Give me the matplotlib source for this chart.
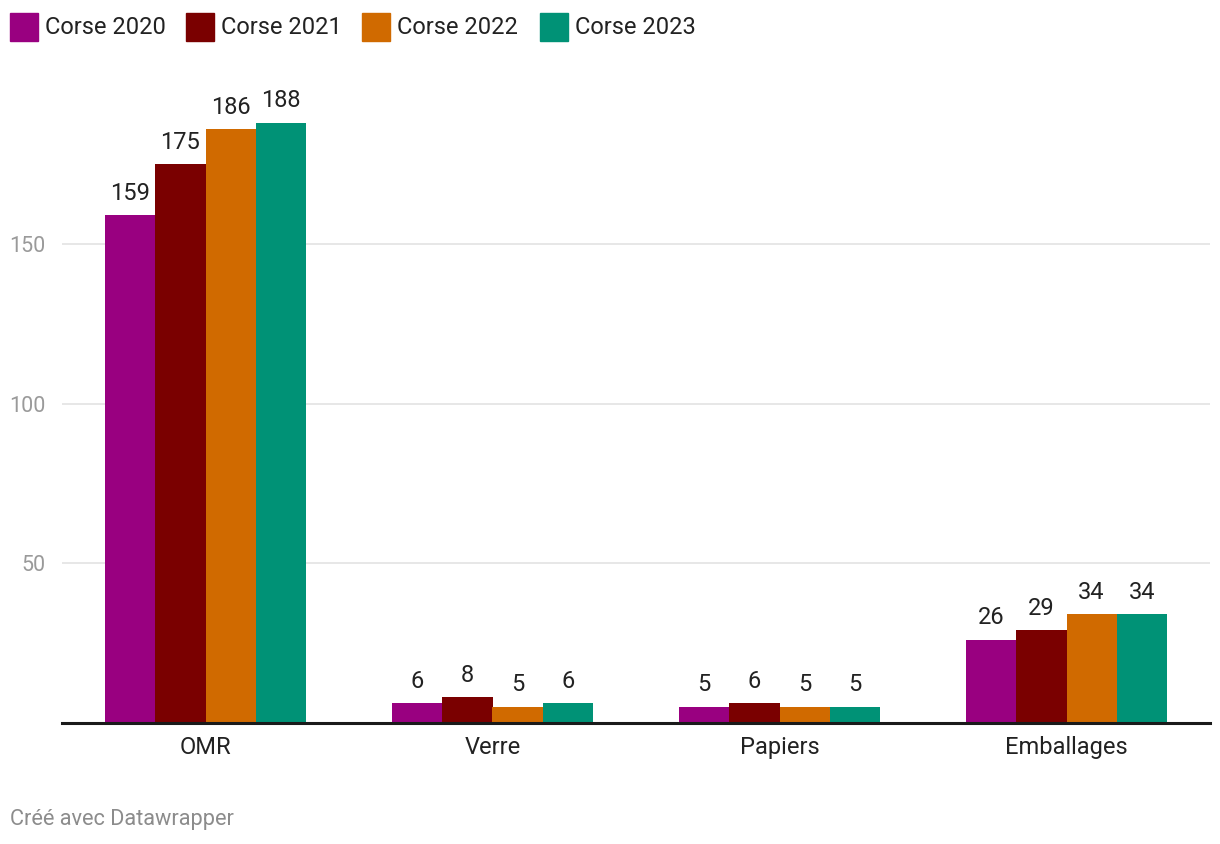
import matplotlib
matplotlib.use("Agg")
import matplotlib.pyplot as plt
import numpy as np
from matplotlib.patches import Rectangle

plt.rcParams['font.family'] = ['Roboto', 'DejaVu Sans']

categories = ["OMR", "Verre", "Papiers", "Emballages"]
series_names = ["Corse 2020", "Corse 2021", "Corse 2022", "Corse 2023"]
values_2020 = [159, 6, 5, 26]
values_2021 = [175, 8, 6, 29]
values_2022 = [186, 5, 5, 34]
values_2023 = [188, 6, 5, 34]
yticks = [50, 100, 150]
colors = ["#990080", "#7a0000", "#d06a00", "#009276"]

series = [values_2020, values_2021, values_2022, values_2023]

W, H = 1220, 844
zero_y = 722.5
scale = 3.19
top_y = 85
fig = plt.figure(figsize=(W / 100, H / 100), dpi=100)
ax = fig.add_axes([62 / W, (H - zero_y) / H, (1210 - 62) / W, (zero_y - top_y) / H])

x = np.arange(len(categories))
bw = 0.175
for i, (vals, col) in enumerate(zip(series, colors)):
    pos = x + (i - 1.5) * bw
    ax.bar(pos, vals, width=bw, color=col, linewidth=0, zorder=3)
    for p, v in zip(pos, vals):
        ax.annotate(str(v), (p, v), xytext=(0, 7.5), textcoords="offset points",
                    ha="center", va="bottom", fontsize=17, color="#222222")

ax.set_xlim(-0.5, 3.5)
ax.set_ylim(0, (zero_y - top_y) / scale)
ax.set_yticks(yticks)
ax.set_yticklabels([str(t) for t in yticks])
for t in yticks:
    ax.axhline(t, xmin=0, xmax=1, color="#e3e3e3", linewidth=1.2, zorder=1)
ax.axhline(0, color="#1a1a1a", linewidth=2.2, zorder=4, clip_on=False)
ax.tick_params(axis="y", length=0, pad=12, labelsize=15.5, labelcolor="#9a9a9a")
ax.tick_params(axis="x", length=0, pad=9.5, labelsize=17, labelcolor="#222222")
ax.set_xticks(x)
ax.set_xticklabels(categories)
for s in ax.spines.values():
    s.set_visible(False)

# legend
lx = [10, 186, 362, 540]
for xx, name, col in zip(lx, series_names, colors):
    fig.patches.append(Rectangle((xx / W, (H - 41) / H), 28 / W, 28 / H,
                                 transform=fig.transFigure, color=col, figure=fig))
    fig.text((xx + 35) / W, (H - 27) / H, name, fontsize=17, color="#222222",
             ha="left", va="center")

fig.text(10 / W, (H - 820) / H, "Créé avec Datawrapper", fontsize=15.7,
         color="#8c8c8c", ha="left", va="center")

fig.savefig("out.png", dpi=100)
